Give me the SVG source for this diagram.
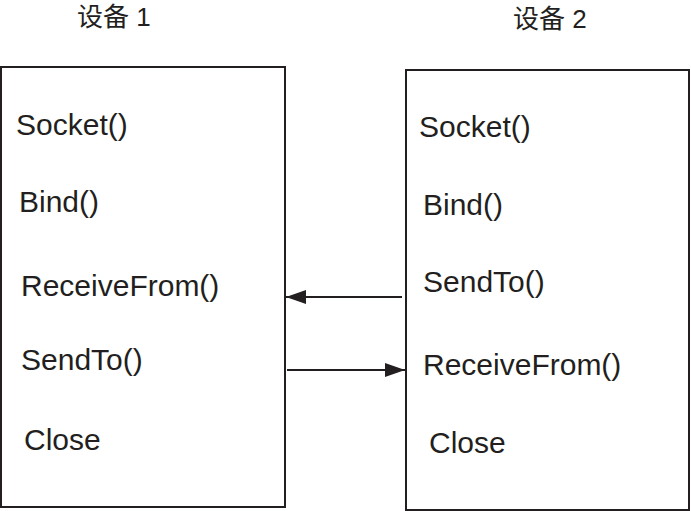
<svg xmlns="http://www.w3.org/2000/svg" width="691" height="511" viewBox="0 0 691 511">
<defs>
<style>
.t{font-family:"Liberation Sans","Noto Sans CJK SC",sans-serif;font-size:30px;fill:#231f20}
.h{font-family:"Liberation Sans","Noto Sans CJK SC",sans-serif;font-size:26px;fill:#231f20}
.box{fill:#fff;stroke:#231f20;stroke-width:2}
.c{stroke:#231f20;stroke-width:2;fill:none}
</style>
<marker id="ah" markerWidth="22" markerHeight="14" refX="20" refY="7" orient="auto" markerUnits="userSpaceOnUse">
<path d="M0,0 L20,7 L0,14 Z" fill="#231f20"/>
</marker>
</defs>
<rect width="691" height="511" fill="#fff"/>
<g id="device1">
<text class="h" x="77" y="26">设备 1</text>
<rect class="box" x="1" y="67" width="284" height="440"/>
<text class="t" x="16" y="135">Socket()</text>
<text class="t" x="19" y="212">Bind()</text>
<text class="t" x="21" y="296">ReceiveFrom()</text>
<text class="t" x="21" y="370">SendTo()</text>
<text class="t" x="24" y="450">Close</text>
</g>
<g id="device2">
<text class="h" x="513" y="28">设备 2</text>
<rect class="box" x="406" y="70" width="283" height="440"/>
<text class="t" x="419" y="137">Socket()</text>
<text class="t" x="423" y="215">Bind()</text>
<text class="t" x="423" y="292">SendTo()</text>
<text class="t" x="423" y="375">ReceiveFrom()</text>
<text class="t" x="429" y="453">Close</text>
</g>
<g id="connectors">
<line class="c" x1="402" y1="297" x2="286" y2="297" marker-end="url(#ah)"/>
<line class="c" x1="287" y1="370" x2="405" y2="370" marker-end="url(#ah)"/>
</g>
</svg>
